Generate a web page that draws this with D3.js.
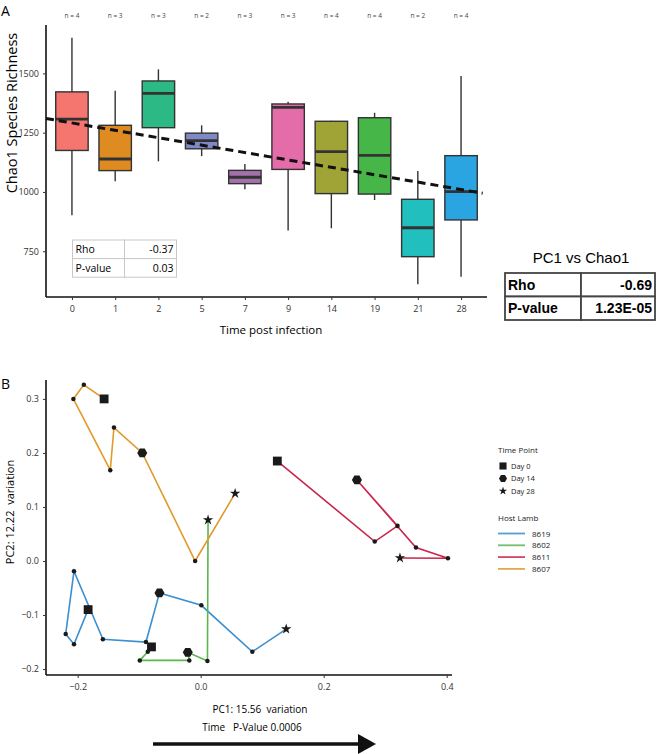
<!DOCTYPE html>
<html>
<head>
<meta charset="utf-8">
<script src="https://d3js.org/d3.v7.min.js"></script>
<style>
  body { margin: 0; background: #fff; }
  svg { display: block; font-family: "Open Sans", sans-serif; }
</style>
</head>
<body>
<div id="chart"></div>
<script>
// ---- panel A data (Chao1 richness by day) ----
var days = ["0", "1", "2", "5", "7", "9", "14", "19", "21", "28"];
var counts = [4, 3, 3, 2, 3, 3, 4, 4, 2, 4];
var whiskerLow = [902, 1045, 1129, 1151, 1011, 837, 847, 966, 611, 642];
var q1 = [1175, 1090, 1271, 1182, 1035, 1095, 993, 991, 727, 882];
var median = [1307, 1139, 1416, 1216, 1062, 1357, 1170, 1154, 849, 1001];
var q3 = [1422, 1281, 1468, 1248, 1091, 1371, 1298, 1313, 969, 1153];
var whiskerHigh = [1650, 1427, 1517, 1281, 1118, 1380, 1300, 1334, 1088, 1489];
var boxColors = ["#f4766e", "#de8c22", "#2cb985", "#7f89c6", "#a571ad",
                 "#e46ca9", "#a0a437", "#46b649", "#21bfbd", "#2ba5e2"];
var chaoTicks = [750, 1000, 1250, 1500];
var trendIntercept = 1291, trendSlope = -31.2;   // per category step
var rhoTableA = [["Rho", "-0.37"], ["P-value", "0.03"]];
var rhoTablePC = [["Rho", "-0.69"], ["P-value", "1.23E-05"]];

// ---- panel B data (PCoA trajectories) ----
var lambs = ["8619", "8602", "8611", "8607"];
var lambColors = ["#3b8fcf", "#5cb54f", "#c8264b", "#e09a2c"];
var lamb8619X = [-0.183, -0.206, -0.2195, -0.206, -0.159, -0.089, -0.067, 0.001, 0.084, 0.139];
var lamb8619Y = [-0.090, -0.154, -0.135, -0.019, -0.145, -0.150, -0.059, -0.082, -0.168, -0.126];
var lamb8619Day = [0, 1, 2, 5, 7, 9, 14, 19, 21, 28];
var lamb8602X = [-0.080, -0.086, -0.099, -0.0185, -0.021, 0.011, 0.012];
var lamb8602Y = [-0.159, -0.168, -0.184, -0.184, -0.169, -0.185, 0.076];
var lamb8602Day = [0, 2, 5, 9, 14, 21, 28];
var lamb8611X = [0.1246, 0.283, 0.320, 0.254, 0.350, 0.402, 0.324];
var lamb8611Y = [0.185, 0.036, 0.065, 0.150, 0.025, 0.005, 0.0056];
var lamb8611Day = [0, 5, 9, 14, 19, 21, 28];
var lamb8607X = [-0.157, -0.190, -0.207, -0.147, -0.141, -0.095, -0.009, 0.056];
var lamb8607Y = [0.300, 0.326, 0.300, 0.168, 0.247, 0.200, 0.000, 0.125];
var lamb8607Day = [0, 1, 2, 5, 7, 14, 21, 28];
var pcXTicks = [-0.2, 0, 0.2, 0.4];
var pcYTicks = [-0.2, -0.1, 0, 0.1, 0.2, 0.3];
var timePoints = [["Day 0", 0], ["Day 14", 14], ["Day 28", 28]];

var W = 658, H = 754;
var svg = d3.select("#chart").append("svg").attr("width", W).attr("height", H);

function fmtMinus(s) { return s.replace("-", "\u2212"); }

// ================= Panel A =================
var gA = svg.append("g");
var x = d3.scalePoint().domain(days).range([46, 487]).padding(0.6);
var y = d3.scaleLinear().domain([557, 1704]).range([297, 25]);
var step = x.step(), bw = step * 0.75;

gA.append("text").attr("x", 1).attr("y", 16).attr("font-size", 14).text("A");

// axes
var yAxA = gA.append("g").attr("transform", "translate(46,0)")
    .call(d3.axisLeft(y).tickValues(chaoTicks).tickSize(3).tickPadding(4).tickFormat(d3.format("d")));
var xAxA = gA.append("g").attr("transform", "translate(0,297)")
    .call(d3.axisBottom(x).tickSize(3).tickPadding(6));
[yAxA, xAxA].forEach(function (ax) {
    ax.select(".domain").attr("stroke", "#111").attr("stroke-width", 1.6);
    ax.selectAll(".tick line").attr("stroke", "#333");
    ax.selectAll(".tick text").attr("font-size", 9).attr("fill", "#333").attr("font-family", "Open Sans");
});
yAxA.select(".domain").attr("d", "M0,297V25");
xAxA.select(".domain").attr("d", "M46,0H487");

// boxes
var boxes = gA.selectAll("g.box").data(days).enter().append("g").attr("class", "box")
    .attr("transform", function (d) { return "translate(" + x(d) + ",0)"; });
boxes.append("line")
    .attr("y1", function (d, i) { return y(whiskerLow[i]); })
    .attr("y2", function (d, i) { return y(whiskerHigh[i]); })
    .attr("stroke", "#333").attr("stroke-width", 1.4);
boxes.append("rect")
    .attr("x", -bw / 2).attr("width", bw)
    .attr("y", function (d, i) { return y(q3[i]); })
    .attr("height", function (d, i) { return y(q1[i]) - y(q3[i]); })
    .attr("fill", function (d, i) { return boxColors[i]; })
    .attr("stroke", "#333").attr("stroke-width", 1.4);
boxes.append("line")
    .attr("x1", -bw / 2).attr("x2", bw / 2)
    .attr("y1", function (d, i) { return y(median[i]); })
    .attr("y2", function (d, i) { return y(median[i]); })
    .attr("stroke", "#333").attr("stroke-width", 2.8);
boxes.append("text")
    .attr("y", 17.5).attr("text-anchor", "middle")
    .attr("font-size", 6.5).attr("fill", "#444")
    .text(function (d, i) { return "n = " + counts[i]; });

// trend line
var i0 = -0.6, i1 = days.length - 1 + 0.6;
gA.append("line")
    .attr("x1", x(days[0]) + i0 * step).attr("x2", x(days[0]) + (i1 - 0.1) * step)
    .attr("y1", y(trendIntercept + trendSlope * i0))
    .attr("y2", y(trendIntercept + trendSlope * (i1 - 0.1)))
    .attr("stroke", "#111").attr("stroke-width", 3).attr("stroke-dasharray", "8,5");

// stats tables
function drawTable(g, rows, opt) {
    rows.forEach(function (r, k) {
        var yy = opt.y + k * opt.rowH;
        g.append("rect").attr("x", opt.x).attr("y", yy).attr("width", opt.c1).attr("height", opt.rowH)
            .attr("fill", "#fff").attr("stroke", opt.stroke).attr("stroke-width", opt.sw);
        g.append("rect").attr("x", opt.x + opt.c1).attr("y", yy).attr("width", opt.c2).attr("height", opt.rowH)
            .attr("fill", "#fff").attr("stroke", opt.stroke).attr("stroke-width", opt.sw);
        g.append("text").attr("x", opt.x + 3).attr("y", yy + opt.rowH / 2 + opt.fs * 0.36)
            .attr("font-size", opt.fs).attr("font-weight", opt.fw).attr("font-family", opt.ff).text(r[0]);
        g.append("text").attr("x", opt.x + opt.c1 + opt.c2 - 3).attr("y", yy + opt.rowH / 2 + opt.fs * 0.36)
            .attr("text-anchor", "end").attr("font-size", opt.fs).attr("font-weight", opt.fw)
            .attr("font-family", opt.ff).text(r[1]);
    });
}
drawTable(gA, rhoTableA, { x: 72.5, y: 240, rowH: 18.6, c1: 52, c2: 52, stroke: "#c8c8c8", sw: 1,
    fs: 10.5, fw: "normal", ff: "Open Sans" });

gA.append("text").attr("transform", "translate(17,113) rotate(-90)")
    .attr("text-anchor", "middle").attr("font-size", 14.5).text("Chao1 Species Richness");
gA.append("text").attr("x", 271).attr("y", 334).attr("text-anchor", "middle")
    .attr("font-size", 11.5).text("Time post infection");

svg.append("text").attr("x", 581).attr("y", 263).attr("text-anchor", "middle")
    .attr("font-size", 15).attr("font-family", "Liberation Sans").text("PC1 vs Chao1");
drawTable(svg, rhoTablePC, { x: 505, y: 273, rowH: 23.5, c1: 76, c2: 74, stroke: "#444", sw: 1.8,
    fs: 14, fw: "bold", ff: "Liberation Sans" });

// ================= Panel B =================
var gB = svg.append("g");
var px = d3.scaleLinear().domain([-0.2515, 0.4086]).range([46, 452]);
var py = d3.scaleLinear().domain([-0.211, 0.335]).range([675, 380]);

gB.append("text").attr("x", 1).attr("y", 389).attr("font-size", 14).text("B");

var yAxB = gB.append("g").attr("transform", "translate(46,0)")
    .call(d3.axisLeft(py).tickValues(pcYTicks).tickSize(3).tickPadding(4)
        .tickFormat(function (d) { return fmtMinus(d3.format(".1f")(d)); }));
var xAxB = gB.append("g").attr("transform", "translate(0,675)")
    .call(d3.axisBottom(px).tickValues(pcXTicks).tickSize(3).tickPadding(6)
        .tickFormat(function (d) { return fmtMinus(d3.format(".1f")(d)); }));
[yAxB, xAxB].forEach(function (ax) {
    ax.select(".domain").attr("stroke", "#111").attr("stroke-width", 1.6);
    ax.selectAll(".tick line").attr("stroke", "#333");
    ax.selectAll(".tick text").attr("font-size", 9).attr("fill", "#333").attr("font-family", "Open Sans");
});
yAxB.select(".domain").attr("d", "M0,675V380");
xAxB.select(".domain").attr("d", "M46,0H452");

var lambData = [
    { id: lambs[0], xs: lamb8619X, ys: lamb8619Y, ds: lamb8619Day },
    { id: lambs[1], xs: lamb8602X, ys: lamb8602Y, ds: lamb8602Day },
    { id: lambs[2], xs: lamb8611X, ys: lamb8611Y, ds: lamb8611Day },
    { id: lambs[3], xs: lamb8607X, ys: lamb8607Y, ds: lamb8607Day }
];

function hexPath(r) {
    var pts = d3.range(6).map(function (k) {
        var a = Math.PI / 3 * k;
        return [r * Math.cos(a), r * Math.sin(a)];
    });
    return "M" + pts.join("L") + "Z";
}
function markerPath(day, scale) {
    if (day === 0) return d3.symbol(d3.symbolSquare, 78 * scale)();
    if (day === 14) return hexPath(5 * Math.sqrt(scale));
    if (day === 28) return d3.symbol(d3.symbolStar, 34 * scale)();
    return d3.symbol(d3.symbolCircle, 16 * scale)();
}

var line = d3.line().x(function (p) { return px(p[0]); }).y(function (p) { return py(p[1]); });
lambData.forEach(function (L, k) {
    var pts = L.xs.map(function (v, j) { return [v, L.ys[j], L.ds[j]]; });
    gB.append("path").attr("d", line(pts)).attr("fill", "none")
        .attr("stroke", lambColors[k]).attr("stroke-width", 1.6);
});
lambData.forEach(function (L) {
    L.xs.forEach(function (v, j) {
        gB.append("path").attr("d", markerPath(L.ds[j], 1))
            .attr("transform", "translate(" + px(v) + "," + py(L.ys[j]) + ")")
            .attr("fill", "#1a1a1a");
    });
});

// legend
var lg = svg.append("g").attr("font-size", 7.5).attr("fill", "#222");
lg.append("text").attr("x", 498).attr("y", 453).attr("font-size", 8).text("Time Point");
timePoints.forEach(function (t, k) {
    var yy = 466 + k * 12.5;
    lg.append("path").attr("d", markerPath(t[1], 0.65))
        .attr("transform", "translate(503," + yy + ")").attr("fill", "#1a1a1a");
    lg.append("text").attr("x", 511).attr("y", yy + 2.8).text(t[0]);
});
lg.append("text").attr("x", 498).attr("y", 521).attr("font-size", 8).text("Host Lamb");
lambs.forEach(function (l, k) {
    var yy = 533.5 + k * 11.8;
    lg.append("line").attr("x1", 498).attr("x2", 525).attr("y1", yy).attr("y2", yy)
        .attr("stroke", lambColors[k]).attr("stroke-width", 1.8).attr("opacity", 0.85);
    lg.append("text").attr("x", 532).attr("y", yy + 3).attr("font-size", 8).text(l);
});

gB.append("text").attr("transform", "translate(14,512) rotate(-90)")
    .attr("text-anchor", "middle").attr("font-size", 11).attr("xml:space", "preserve")
    .text("PC2: 12.22  variation");
gB.append("text").attr("x", 260).attr("y", 713).attr("text-anchor", "middle")
    .attr("font-size", 10).attr("xml:space", "preserve").text("PC1: 15.56  variation");
gB.append("text").attr("x", 252).attr("y", 731).attr("text-anchor", "middle")
    .attr("font-size", 10).attr("xml:space", "preserve").text("Time   P-Value 0.0006");

// arrow
gB.append("line").attr("x1", 153).attr("x2", 362).attr("y1", 744).attr("y2", 744)
    .attr("stroke", "#111").attr("stroke-width", 3.5);
gB.append("path").attr("d", "M358,734L376,744L358,754Z").attr("fill", "#111");
</script>
</body>
</html>
